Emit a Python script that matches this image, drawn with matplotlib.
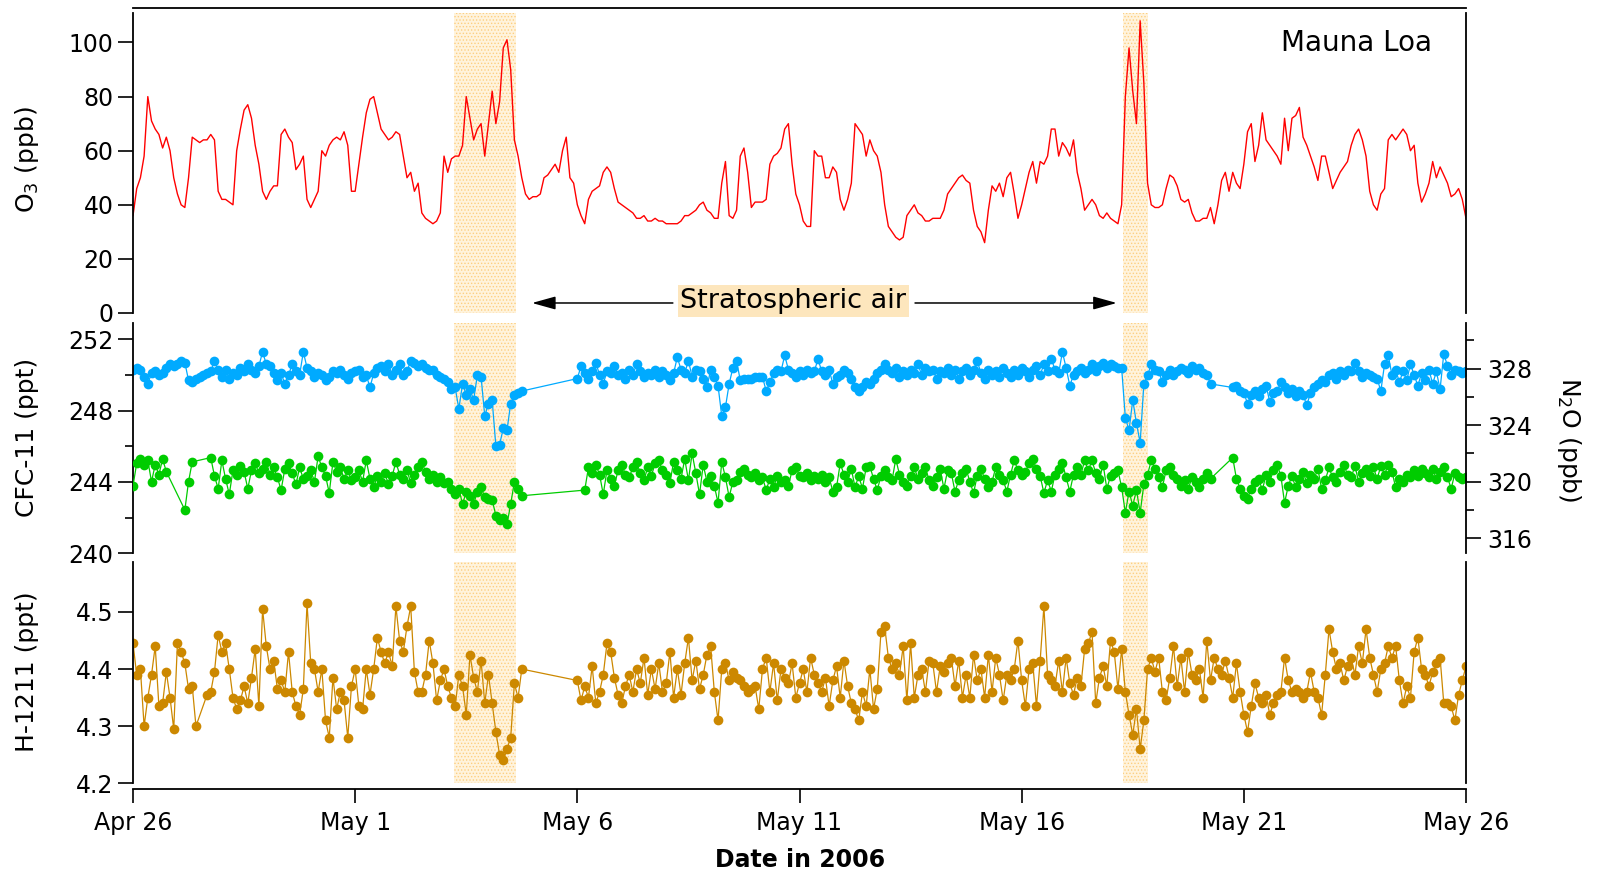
import numpy as np
import matplotlib
matplotlib.use('Agg')
import matplotlib.pyplot as plt

plt.rcParams['font.family'] = 'DejaVu Sans'
plt.rcParams['mathtext.default'] = 'regular'
plt.rcParams['hatch.linewidth'] = 0.6

# 2-hourly samples, Apr 26 00:00 -> May 26 00:00 (time in days since Apr 26)
hours = np.arange(0, 721, 2)
days = hours / 24.0

# O3 (ppb), one row per day
o3 = [
    36, 46, 50, 58, 80, 71, 68, 66, 61, 65, 60, 50,
    44, 40, 39, 50, 65, 64, 63, 64, 64, 66, 64, 45,
    42, 42, 41, 40, 60, 68, 75, 77, 72, 62, 55, 45,
    42, 45, 47, 47, 66, 68, 65, 63, 53, 55, 58, 42,
    39, 42, 45, 60, 58, 62, 64, 65, 64, 67, 62, 45,
    45, 55, 65, 74, 79, 80, 74, 68, 66, 64, 65, 67,
    66, 58, 50, 52, 45, 48, 37, 35, 34, 33, 34, 37,
    58, 52, 57, 58, 58, 62, 80, 72, 64, 68, 70, 58,
    70, 82, 70, 78, 98, 101, 90, 64, 58, 50, 44, 42,
    43, 43, 44, 50, 51, 53, 55, 52, 60, 65, 50, 48,
    40, 36, 33, 42, 45, 46, 47, 52, 54, 52, 46, 41,
    40, 39, 38, 37, 35, 35, 36, 34, 34, 35, 34, 34,
    33, 33, 33, 33, 34, 36, 36, 37, 38, 40, 41, 38,
    37, 35, 35, 48, 56, 36, 35, 38, 58, 61, 52, 39,
    41, 41, 41, 42, 55, 58, 59, 61, 68, 70, 55, 44,
    40, 34, 32, 32, 60, 58, 58, 50, 50, 54, 52, 42,
    38, 42, 48, 70, 68, 66, 58, 64, 60, 58, 52, 40,
    32, 30, 28, 27, 28, 36, 38, 40, 37, 36, 34, 34,
    35, 35, 35, 38, 44, 46, 48, 50, 51, 49, 48, 38,
    32, 30, 26, 38, 47, 45, 48, 43, 50, 52, 44, 35,
    40, 46, 52, 56, 48, 56, 55, 58, 68, 68, 58, 63,
    61, 58, 64, 52, 46, 38, 40, 42, 40, 36, 35, 37,
    35, 34, 33, 40, 80, 98, 82, 70, 108, 85, 48, 40,
    39, 39, 40, 46, 51, 50, 47, 42, 41, 42, 37, 34,
    34, 35, 35, 39, 33, 40, 49, 52, 45, 52, 48, 46,
    55, 67, 70, 56, 62, 74, 64, 62, 60, 58, 55, 72,
    60, 72, 73, 76, 65, 62, 58, 54, 49, 58, 58, 52,
    46, 49, 52, 54, 56, 62, 66, 68, 64, 58, 45, 40,
    38, 44, 46, 64, 66, 64, 66, 68, 66, 60, 62, 48,
    41, 44, 48, 56, 50, 54, 51, 48, 43, 44, 46, 42,
    35,
]

# CFC-11 (ppt), None = no sample
cfc11 = [
    250.3, 250.4, 250.3, 249.9, 249.5, 250.1, 250.2, 250.0, 250.1, 250.4, 250.6, 250.5,
    250.6, 250.8, 250.7, 249.7, 249.6, 249.8, 249.9, 250.0, 250.1, 250.2, 250.8, 250.3,
    249.9, 250.3, 249.8, 250.1, 250.0, 250.4, 250.2, 250.6, 250.3, 250.1, 250.5, 251.3,
    250.6, 250.5, 250.1, 249.7, 250.1, 249.5, 250.0, 250.6, 250.2, 250.0, 251.3, 250.4,
    250.2, 249.9, 250.1, 250.0, 249.7, 249.9, 250.2, 250.1, 250.3, 250.0, 249.8, 250.1,
    250.2, 250.3, 249.9, 250.0, 249.3, 250.1, 250.4, 250.5, 250.2, 250.6, 250.0, 250.3,
    250.6, 250.0, 250.2, 250.8, 250.7, 250.5, 250.6, 250.4, 250.3, 250.3, 250.0, 249.9,
    249.8, 249.6, 249.2, 249.3, 248.1, 249.5, 248.9, 249.2, 248.6, 250.0, 249.9, 247.7,
    248.4, 248.6, 246.0, 246.1, 247.0, 246.9, 248.4, 248.9, 249.0, 249.1, None, None,
    None, None, None, None, None, None, None, None, None, None, None, None,
    249.8, 250.5, 250.1, 249.8, 250.2, 250.7, 250.0, 249.5, 250.2, 250.1, 250.5, 250.0,
    250.1, 249.8, 250.3, 250.0, 250.6, 250.2, 249.9, 250.1, 250.0, 250.3, 249.9, 250.2,
    250.0, 249.7, 250.1, 251.0, 250.3, 250.1, 250.8, 249.9, 250.3, 250.2, 249.8, 249.3,
    250.3, 249.9, 249.4, 247.7, 248.2, 249.5, 250.4, 250.8, 249.7, 249.8, 249.8, 249.8,
    249.9, 249.9, 249.9, 249.1, 249.6, 250.1, 250.3, 250.2, 251.1, 250.3, 250.1, 249.9,
    250.2, 250.0, 250.3, 250.1, 250.2, 250.9, 250.2, 250.0, 250.3, 249.5, 249.9, 250.0,
    250.3, 250.1, 249.8, 249.3, 249.1, 249.3, 249.6, 249.5, 249.8, 250.1, 250.3, 250.6,
    250.3, 250.1, 250.4, 249.9, 250.2, 250.0, 250.3, 250.1, 250.6, 250.0, 250.4, 250.2,
    250.3, 249.8, 250.2, 250.1, 250.4, 250.0, 250.3, 249.8, 250.2, 250.4, 250.0, 250.3,
    250.8, 250.1, 249.8, 250.3, 250.0, 250.2, 249.9, 250.4, 250.1, 249.9, 250.3, 250.0,
    250.4, 250.2, 249.9, 250.3, 250.5, 250.0, 250.6, 250.2, 250.9, 250.3, 250.1, 251.3,
    250.4, 249.4, 250.0, 250.2, 250.4, 250.1, 250.3, 250.6, 250.2, 250.5, 250.7, 250.4,
    250.6, 250.5, 250.4, 250.4, 247.6, 246.9, 248.6, 247.3, 246.2, 249.5, 250.0, 250.6,
    250.3, 250.2, 249.6, 250.0, 250.3, 250.0, 250.2, 250.4, 250.3, 250.1, 250.5, 250.3,
    250.4, 250.1, 250.0, 249.5, None, None, None, None, None, 249.3, 249.4, 249.1,
    249.0, 248.4, 248.9, 249.1, 248.8, 249.2, 249.4, 248.5, 249.0, 249.1, 249.6, 249.3,
    249.0, 249.2, 248.8, 249.1, 248.9, 248.3, 249.0, 249.3, 249.5, 249.7, 249.6, 250.0,
    250.1, 249.8, 250.2, 250.0, 250.3, 250.2, 250.7, 250.2, 249.9, 250.1, 250.0, 249.9,
    249.8, 249.1, 250.6, 251.1, 250.0, 250.3, 249.6, 250.2, 249.7, 250.6, 250.0, 249.4,
    250.1, 249.7, 250.3, 249.5, 250.2, 249.2, 251.2, 250.5, 250.0, 250.3, 250.2, 250.1,
    250.2,
]

# N2O (ppb)
n2o = [
    319.7, 321.3, 321.6, 321.2, 321.5, 320.0, 321.2, 320.5, 321.6, 320.7, None, None,
    None, None, 318.0, 320.0, 321.4, None, None, None, None, 321.7, 320.4, 319.5,
    321.5, 320.2, 319.1, 320.8, 320.5, 321.1, 320.7, 319.5, 320.8, 321.3, 320.6, 320.9,
    321.4, 320.5, 321.0, 320.3, 319.4, 320.9, 321.3, 320.6, 319.8, 321.0, 320.2, 320.4,
    320.8, 320.0, 321.8, 321.0, 320.4, 319.2, 321.4, 320.7, 321.0, 320.2, 320.8, 320.1,
    320.3, 320.8, 320.0, 321.5, 320.2, 319.6, 320.4, 320.0, 320.6, 319.8, 320.4, 321.4,
    320.5, 320.2, 320.8, 319.9, 320.5, 321.0, 321.4, 320.7, 320.2, 320.5, 320.0, 320.3,
    319.9, 320.0, 319.5, 319.1, 319.5, 318.4, 319.3, 319.0, 318.4, 319.3, 319.6, 318.9,
    318.8, 318.7, 317.6, 317.3, 317.4, 317.0, 318.4, 320.0, 319.5, 319.0, None, None,
    None, None, None, None, None, None, None, None, None, None, None, None,
    None, None, 319.4, 321.0, 320.6, 321.2, 320.5, 319.1, 320.8, 320.2, 319.7, 320.8,
    321.2, 320.5, 320.3, 321.0, 321.4, 320.6, 320.1, 321.0, 320.4, 321.3, 321.5, 320.8,
    320.5, 319.9, 321.4, 320.8, 320.2, 321.6, 320.1, 322.0, 320.6, 319.1, 321.2, 320.0,
    320.4, 319.7, 318.5, 321.4, 320.3, 318.9, 320.0, 320.1, 320.7, 320.9, 320.5, 320.3,
    320.6, 320.1, 320.3, 319.4, 320.2, 319.6, 320.4, 320.0, 320.1, 319.7, 320.8, 321.0,
    320.4, 320.3, 320.6, 320.1, 320.4, 320.2, 320.5, 320.0, 320.3, 319.3, 319.6, 321.3,
    320.5, 320.0, 320.9, 319.6, 320.4, 319.5, 321.0, 321.1, 320.2, 319.4, 320.4, 320.8,
    320.3, 320.1, 321.6, 320.5, 320.0, 319.7, 320.4, 321.0, 320.2, 320.6, 321.0, 320.1,
    319.7, 320.3, 320.9, 319.5, 320.8, 320.6, 319.3, 320.1, 320.6, 320.9, 320.0, 319.2,
    320.4, 320.9, 320.2, 319.6, 320.0, 321.0, 320.5, 320.1, 319.3, 320.5, 321.5, 320.8,
    320.5, 320.7, 321.3, 321.6, 320.9, 320.4, 319.2, 320.1, 319.3, 320.5, 320.9, 321.3,
    320.3, 319.3, 320.5, 321.0, 320.5, 321.5, 320.8, 321.5, 320.6, 320.2, 321.2, 319.5,
    320.4, 320.6, 320.8, 319.6, 317.8, 319.3, 318.3, 319.4, 317.8, 319.8, 320.5, 321.5,
    320.9, 320.3, 319.6, 320.8, 321.0, 320.5, 320.2, 319.7, 320.1, 319.5, 320.3, 320.0,
    319.6, 320.2, 320.6, 320.2, None, None, None, None, None, 321.7, 320.2, 319.5,
    319.0, 318.8, 319.5, 320.0, 320.2, 319.4, 320.5, 320.0, 320.8, 321.2, 320.4, 318.5,
    319.7, 320.4, 319.6, 320.2, 320.7, 319.9, 320.5, 320.2, 320.9, 319.5, 320.1, 321.0,
    320.3, 320.0, 320.7, 321.2, 320.5, 320.3, 321.1, 320.0, 320.6, 320.9, 320.4, 321.0,
    320.2, 321.1, 320.5, 321.2, 320.7, 319.6, 320.2, 320.0, 320.5, 320.3, 320.8, 320.4,
    320.9, 320.6, 320.3, 320.9, 320.2, 320.7, 321.0, 320.3, 319.5, 320.6, 320.3, 320.2,
    320.3,
]

# H-1211 (ppt)
h1211 = [
    4.445, 4.39, 4.40, 4.30, 4.35, 4.39, 4.44, 4.335, 4.34, 4.395, 4.35, 4.295,
    4.445, 4.43, 4.41, 4.365, 4.37, 4.30, None, None, 4.355, 4.36, 4.395, 4.46,
    4.43, 4.445, 4.40, 4.35, 4.33, 4.345, 4.37, 4.34, 4.385, 4.435, 4.335, 4.505,
    4.44, 4.40, 4.415, 4.365, 4.38, 4.36, 4.43, 4.36, 4.335, 4.32, 4.365, 4.515,
    4.41, 4.40, 4.36, 4.40, 4.31, 4.28, 4.385, 4.33, 4.36, 4.345, 4.28, 4.37,
    4.40, 4.335, 4.33, 4.40, 4.355, 4.40, 4.455, 4.43, 4.41, 4.43, 4.405, 4.51,
    4.45, 4.43, 4.475, 4.51, 4.395, 4.36, 4.36, 4.39, 4.45, 4.41, 4.345, 4.38,
    4.40, 4.37, 4.35, 4.335, 4.39, 4.37, 4.32, 4.425, 4.385, 4.36, 4.415, 4.34,
    4.39, 4.34, 4.29, 4.25, 4.24, 4.26, 4.28, 4.375, 4.35, 4.40, None, None,
    None, None, None, None, None, None, None, None, None, None, None, None,
    4.38, 4.345, 4.37, 4.35, 4.405, 4.34, 4.36, 4.39, 4.445, 4.43, 4.385, 4.355,
    4.34, 4.37, 4.39, 4.36, 4.40, 4.375, 4.42, 4.355, 4.40, 4.365, 4.41, 4.36,
    4.375, 4.43, 4.35, 4.40, 4.355, 4.41, 4.455, 4.38, 4.415, 4.365, 4.39, 4.425,
    4.44, 4.36, 4.31, 4.40, 4.41, 4.38, 4.395, 4.385, 4.38, 4.37, 4.36, 4.365,
    4.37, 4.33, 4.40, 4.42, 4.36, 4.41, 4.345, 4.40, 4.385, 4.375, 4.41, 4.35,
    4.375, 4.40, 4.36, 4.42, 4.39, 4.375, 4.36, 4.385, 4.335, 4.38, 4.405, 4.35,
    4.415, 4.37, 4.34, 4.33, 4.31, 4.36, 4.335, 4.40, 4.33, 4.365, 4.465, 4.475,
    4.42, 4.40, 4.41, 4.39, 4.44, 4.345, 4.445, 4.35, 4.39, 4.40, 4.36, 4.415,
    4.41, 4.36, 4.405, 4.395, 4.41, 4.42, 4.37, 4.415, 4.35, 4.39, 4.35, 4.425,
    4.38, 4.40, 4.35, 4.425, 4.36, 4.42, 4.39, 4.345, 4.39, 4.38, 4.40, 4.45,
    4.38, 4.335, 4.40, 4.41, 4.335, 4.415, 4.51, 4.39, 4.38, 4.37, 4.415, 4.36,
    4.42, 4.375, 4.355, 4.385, 4.37, 4.435, 4.445, 4.465, 4.34, 4.385, 4.405, 4.37,
    4.45, 4.43, 4.365, 4.435, 4.36, 4.32, 4.285, 4.33, 4.26, 4.31, 4.40, 4.42,
    4.395, 4.42, 4.36, 4.345, 4.385, 4.44, 4.37, 4.42, 4.36, 4.43, 4.39, 4.38,
    4.40, 4.35, 4.45, 4.38, 4.42, 4.40, 4.39, 4.415, 4.385, 4.35, 4.41, 4.36,
    4.32, 4.29, 4.335, 4.375, 4.35, 4.34, 4.355, 4.32, 4.34, 4.355, 4.36, 4.42,
    4.38, 4.36, 4.365, 4.36, 4.35, 4.36, 4.395, 4.36, 4.35, 4.32, 4.39, 4.47,
    4.43, 4.40, 4.41, 4.38, 4.405, 4.42, 4.39, 4.44, 4.41, 4.47, 4.42, 4.39,
    4.36, 4.40, 4.41, 4.44, 4.42, 4.44, 4.38, 4.34, 4.37, 4.35, 4.43, 4.455,
    4.40, 4.39, 4.37, 4.395, 4.41, 4.42, 4.34, 4.34, 4.335, 4.31, 4.355, 4.38,
    4.405,
]

date_ticks = [0, 5, 10, 15, 20, 25, 30]
date_labels = ['Apr 26', 'May 1', 'May 6', 'May 11', 'May 16', 'May 21', 'May 26']
# stratospheric intrusion periods (days since Apr 26)
strat_events = [(7.23, 8.62), (22.27, 22.85)]

W, H = 1600, 874
fig = plt.figure(figsize=(16, 8.74), dpi=100)


def box(top, bottom, left=133, right=1466):
    # pixel edges -> figure fraction rectangle
    return [left / W, 1 - bottom / H, (right - left) / W, (bottom - top) / H]


ax1 = fig.add_axes(box(8, 313))
ax2 = fig.add_axes(box(323.3, 553.3))
ax2r = ax2.twinx()
ax3 = fig.add_axes(box(561.7, 789))

shade = dict(facecolor='#fff3dc', edgecolor='#fdcf80', hatch='.....', linewidth=0, zorder=0)


def dotted(ax, values, color):
    v = np.array(values, dtype=float)
    ok = ~np.isnan(v)
    ax.plot(days[ok], v[ok], '-o', color=color, lw=0.9, ms=7, mec=color, mew=0)


# ---- O3 panel
o3_v = np.array(o3, dtype=float)
ax1.set_ylim(0, 112.75)
for a, b in strat_events:
    ax1.axvspan(a, b, ymin=0, ymax=110.8 / 112.75, **shade)
ax1.plot(days, o3_v, color='#ff0000', lw=1.0)
ax1.set_yticks([0, 20, 40, 60, 80, 100])
ax1.spines['bottom'].set_visible(False)
ax1.spines['left'].set_bounds(0, 110.8)
ax1.spines['right'].set_bounds(0, 110.8)
ax1.spines['top'].set_linewidth(1.6)
ax1.text(0.918, 0.885, 'Mauna Loa', transform=ax1.transAxes, fontsize=20, ha='center', va='center')

# stratospheric air arrows
ax1.text(14.86, 4.4, 'Stratospheric air', fontsize=19.5, ha='center', va='center', clip_on=False,
         bbox=dict(boxstyle='square,pad=0.1', facecolor='#fde6bd', edgecolor='none'))
arrow = dict(arrowstyle='-|>,head_length=0.9,head_width=0.25', color='black', lw=1.1,
             shrinkA=0, shrinkB=0, mutation_scale=16)
ax1.annotate('', xy=(8.98, 3.7), xytext=(12.15, 3.7), arrowprops=arrow, annotation_clip=False)
ax1.annotate('', xy=(22.14, 3.7), xytext=(17.6, 3.7), arrowprops=arrow, annotation_clip=False)

# ---- CFC-11 / N2O panel
ax2.set_ylim(240, 252.9)
ax2r.set_ylim(314.93, 331.2)
for a, b in strat_events:
    ax2.axvspan(a, b, **shade)
dotted(ax2, cfc11, '#00aaff')
dotted(ax2r, n2o, '#00cc00')
ax2.set_yticks([240, 244, 248, 252])
ax2.set_yticks([242, 246, 250], minor=True)
ax2r.set_yticks([316, 320, 324, 328])
ax2r.set_yticks([318, 322, 326, 330], minor=True)
for s in ['top', 'bottom', 'right']:
    ax2.spines[s].set_visible(False)
for s in ['top', 'bottom', 'left']:
    ax2r.spines[s].set_visible(False)

# ---- H-1211 panel
ax3.set_ylim(4.19, 4.588)
for a, b in strat_events:
    ax3.axvspan(a, b, ymin=(4.2 - 4.19) / (4.588 - 4.19), ymax=1, **shade)
dotted(ax3, h1211, '#cc8800')
ax3.set_yticks([4.2, 4.3, 4.4, 4.5])
ax3.set_yticklabels(['4.2', '4.3', '4.4', '4.5'])
ax3.spines['top'].set_visible(False)
ax3.spines['left'].set_bounds(4.2, 4.588)
ax3.spines['right'].set_bounds(4.2, 4.588)
ax3.set_xticks(date_ticks)
ax3.set_xticklabels(date_labels)
ax3.tick_params(axis='x', direction='out', length=10, width=1.2, labelsize=17, pad=6)

for ax in [ax1, ax2, ax2r, ax3]:
    ax.set_xlim(0, 30)
    for s in ax.spines.values():
        s.set_linewidth(1.3)
for ax in [ax1, ax2, ax2r]:
    ax.tick_params(axis='x', bottom=False, labelbottom=False)
for ax in [ax1, ax2, ax3]:
    ax.tick_params(axis='y', which='major', direction='out', length=11, width=1.2, labelsize=17, pad=3)
    ax.tick_params(axis='y', which='minor', direction='out', length=5.5, width=1.2)
ax2r.tick_params(axis='y', which='major', direction='out', length=10.5, width=1.2, labelsize=17, pad=5)
ax2r.tick_params(axis='y', which='minor', direction='out', length=5.5, width=1.2)

# axis titles
fig.text(27 / W, 1 - 160 / H, 'O$_3$ (ppb)', rotation=90, fontsize=18, ha='center', va='center')
fig.text(27 / W, 1 - 437 / H, 'CFC-11 (ppt)', rotation=90, fontsize=18, ha='center', va='center')
fig.text(27 / W, 1 - 672 / H, 'H-1211 (ppt)', rotation=90, fontsize=18, ha='center', va='center')
fig.text(1569 / W, 1 - 440 / H, 'N$_2$O (ppb)', rotation=270, fontsize=18, ha='center', va='center')
fig.text(800 / W, 1 - 860 / H, 'Date in 2006', fontsize=17, fontweight='bold', ha='center', va='center')

fig.savefig('out.png', dpi=100)
